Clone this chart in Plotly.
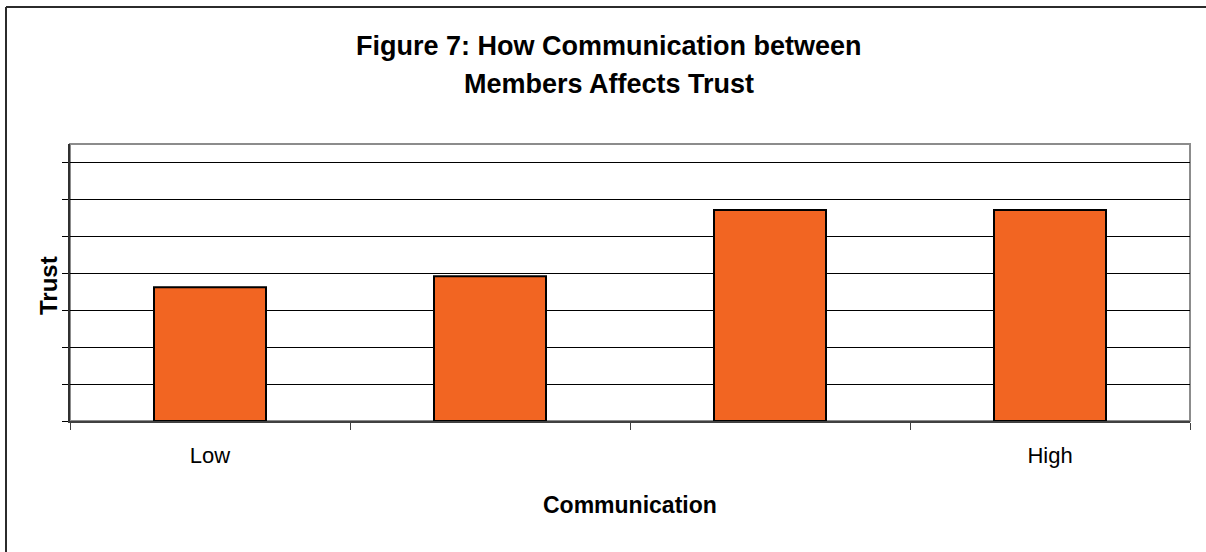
import plotly.graph_objects as go

# Category labels (only the two extremes are named on the axis)
categories = ["Low", " ", "  ", "High"]
trust_values = [3.62, 3.92, 5.71, 5.71]

title_lines = ["Figure 7: How Communication between", "Members Affects Trust"]
x_title = "Communication"
y_title = "Trust"

FONT = "Liberation Sans, Arial, sans-serif"

W, H = 1206, 552
L, R, T, B = 70, 16, 144, 131
plot_w = W - L - R
plot_h = H - T - B


def px_x(px):
    return (px - L) / plot_w


def px_y(py):
    return (H - B - py) / plot_h


fig = go.Figure()
fig.add_trace(go.Bar(
    x=categories,
    y=trust_values,
    width=0.4,
    marker=dict(color="#F26522", line=dict(color="#000000", width=2)),
    hoverinfo="y",
))

shapes = [
    # plot area frame
    dict(type="rect", xref="paper", yref="paper", x0=0, x1=1, y0=0, y1=1,
         line=dict(color="#8c8c8c", width=2), layer="below"),
    # outer chart frame (top and left edges)
    dict(type="line", xref="paper", yref="paper",
         x0=px_x(6), x1=px_x(1210), y0=px_y(7), y1=px_y(7),
         line=dict(color="#2b2b2b", width=2)),
    dict(type="line", xref="paper", yref="paper",
         x0=px_x(6), x1=px_x(6), y0=px_y(7), y1=px_y(556),
         line=dict(color="#2b2b2b", width=2)),
]

annotations = [
    dict(text="<b>%s</b>" % title_lines[0], xref="paper", yref="paper",
         x=px_x(609), y=px_y(46), xanchor="center", yanchor="middle",
         showarrow=False, font=dict(family=FONT, size=27, color="#000")),
    dict(text="<b>%s</b>" % title_lines[1], xref="paper", yref="paper",
         x=px_x(609), y=px_y(84), xanchor="center", yanchor="middle",
         showarrow=False, font=dict(family=FONT, size=27, color="#000")),
    dict(text="<b>%s</b>" % x_title, xref="paper", yref="paper",
         x=px_x(630), y=px_y(505), xanchor="center", yanchor="middle",
         showarrow=False, font=dict(family=FONT, size=23, color="#000")),
    dict(text="<b>%s</b>" % y_title, xref="paper", yref="paper",
         x=px_x(48), y=px_y(286), xanchor="center", yanchor="middle",
         textangle=-90, showarrow=False,
         font=dict(family=FONT, size=24, color="#000")),
]

fig.update_layout(
    width=W, height=H,
    margin=dict(l=L, r=R, t=T, b=B, pad=0),
    paper_bgcolor="white", plot_bgcolor="white",
    showlegend=False,
    bargap=0.6,
    shapes=shapes,
    annotations=annotations,
    font=dict(family=FONT, color="#000"),
)

fig.update_xaxes(
    type="category",
    tickson="boundaries",
    ticks="outside", ticklen=7, tickwidth=1, tickcolor="#404040",
    showline=True, linecolor="#404040", linewidth=2,
    showgrid=False,
    tickfont=dict(family=FONT, size=22, color="#000"),
    ticklabelstandoff=14,
)

fig.update_yaxes(
    range=[0, 7.5],
    tick0=0, dtick=1,
    showticklabels=False,
    ticks="outside", ticklen=6, tickwidth=1, tickcolor="#000",
    showline=True, linecolor="#303030", linewidth=2,
    showgrid=True, gridcolor="#000000", gridwidth=1,
    zeroline=False,
)

fig.write_html("out.html")
